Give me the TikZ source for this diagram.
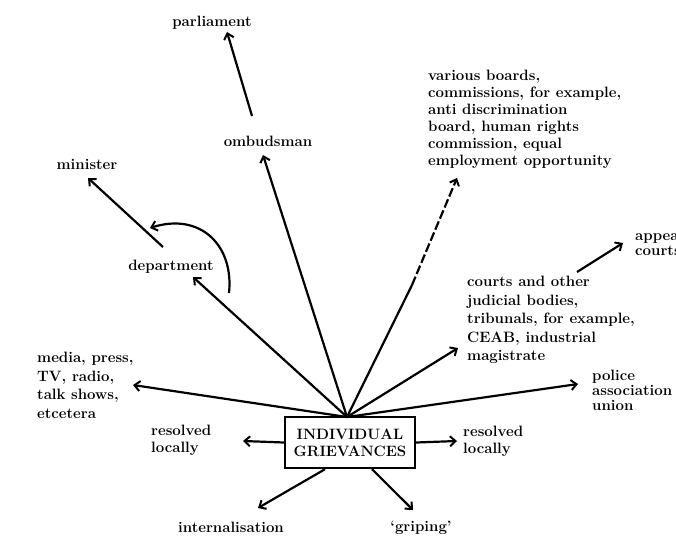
\documentclass[tikz,border=0pt]{standalone}
\usetikzlibrary{arrows.meta}
\begin{document}
\begin{tikzpicture}[x=1pt,y=-1pt,
  lbl/.style={font=\fontsize{15}{18.5}\selectfont\bfseries, inner sep=0pt},
  blk/.style={lbl, align=left, anchor=north west},
  tight/.style={font=\fontsize{15}{17}\selectfont\bfseries},
  tighter/.style={font=\fontsize{15}{15}\selectfont\bfseries},
  arr/.style={line width=2.2pt, -{Straight Barb[length=5.5pt,width=10pt,line width=2pt]}},
]
\useasboundingbox (0,0) rectangle (676,537);

% central box
\node[draw, line width=2.4pt, minimum width=130pt, minimum height=51pt, inner sep=0pt,
      align=center, tight] (box) at (350,442.5) {INDIVIDUAL\\GRIEVANCES};
\coordinate (hub) at (347,417);

% labels
\node[lbl] (parl) at (212,23) {parliament};
\node[lbl] (omb) at (268,141) {ombudsman};
\node[lbl] (min) at (87,164) {minister};
\node[lbl] (dept) at (171,267) {department};
\node[blk, tight] (boards) at (428,70) {various boards,\\commissions, for example,\\anti discrimination\\board, human rights\\commission, equal\\employment opportunity};
\node[blk] (media) at (37,352) {media, press,\\TV, radio,\\talk shows,\\etcetera};
\node[blk, tight] (resL) at (151,425) {resolved\\locally};
\node[blk, tight] (resR) at (463,426) {resolved\\locally};
\node[blk] (courts) at (467,276) {courts and other\\judicial bodies,\\tribunals, for example,\\CEAB, industrial\\magistrate};
\node[blk, tighter] (police) at (592,370) {police\\association\\union};
\node[blk, tighter] (appeal) at (635,230) {appeal\\courts};
\node[lbl] (intern) at (231,527) {internalisation};
\node[lbl] (grip) at (421,528) {`griping'};

% arrow ends
\coordinate (parlTail) at (252,116);
\coordinate (parlTip) at (227,32);
\coordinate (ombTip) at (263,155);
\coordinate (minTail) at (163,247);
\coordinate (minTip) at (88,178);
\coordinate (deptTip) at (193,277);
\coordinate (loopStart) at (229,293);
\coordinate (loopTip) at (150,228);
\coordinate (mediaTip) at (133,385);
\coordinate (resLTip) at (243,441);
\coordinate (resRTip) at (457,441);
\coordinate (internTip) at (258,508);
\coordinate (gripTip) at (413,510);
\coordinate (policeTip) at (578,384);
\coordinate (courtsTip) at (458,348);
\coordinate (appealTail) at (577,272);
\coordinate (appealTip) at (623,243);
\coordinate (boardsBreak) at (412,285);
\coordinate (boardsTip) at (457,178);

% connectors
\draw[arr] (parlTail) -- (parlTip);
\draw[arr] (hub) -- (ombTip);
\draw[arr] (minTail) -- (minTip);
\draw[arr] (hub) -- (deptTip);
\draw[arr] (loopStart) .. controls (234,245) and (200,212) .. (loopTip);
\draw[arr] (hub) -- (mediaTip);
\draw[arr] (box.west) -- (resLTip);
\draw[arr] (box.east) -- (resRTip);
\draw[arr] ([xshift=-25pt]box.south) -- (internTip);
\draw[arr] ([xshift=22pt]box.south) -- (gripTip);
\draw[arr] (hub) -- (policeTip);
\draw[arr] (hub) -- (courtsTip);
\draw[arr] (appealTail) -- (appealTip);
\draw[line width=2.2pt] (hub) -- (boardsBreak);
\draw[arr, dash pattern=on 9pt off 3pt] (boardsBreak) -- (boardsTip);
\end{tikzpicture}
\end{document}
